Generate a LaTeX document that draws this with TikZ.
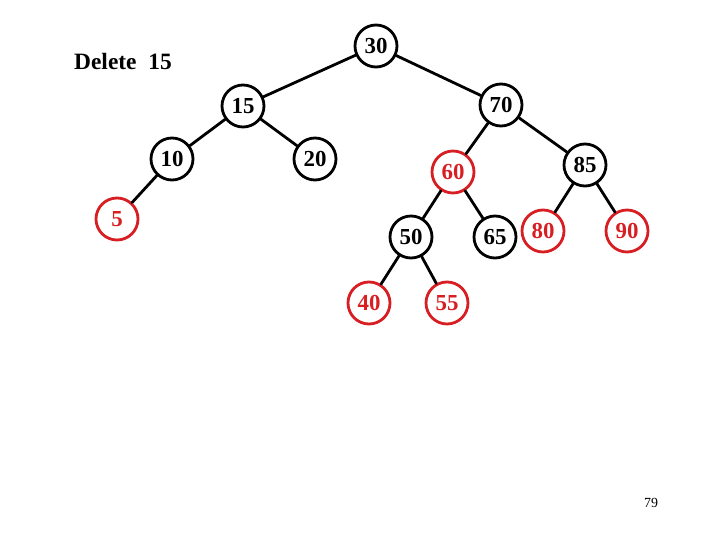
\documentclass[tikz,border=0pt]{standalone}
\usepackage{fontspec}
\setmainfont{Liberation Serif}
\usepackage{xcolor}
\definecolor{rbred}{RGB}{215,30,35}

\begin{document}
\begin{tikzpicture}[x=1bp, y=-1bp,
    bnode/.style={circle, draw=black, line width=2.8bp, minimum size=42bp, inner sep=0pt,
                  font=\fontsize{23}{26}\selectfont\bfseries},
    rnode/.style={bnode, draw=rbred, text=rbred},
    edge/.style={line width=2.8bp, line cap=round}]
    \useasboundingbox (0,0) rectangle (720,540);
    \node[bnode] (n30) at (376,46) {30};
    \node[bnode] (n15) at (243,106) {15};
    \node[bnode] (n70) at (501,105) {70};
    \node[bnode] (n10) at (172,159) {10};
    \node[bnode] (n20) at (315,159) {20};
    \node[rnode] (n5) at (117,219) {5};
    \node[rnode] (n60) at (453,172) {60};
    \node[bnode] (n85) at (585,165) {85};
    \node[bnode] (n50) at (411,237) {50};
    \node[bnode] (n65) at (495,237) {65};
    \node[rnode] (n80) at (543,231) {80};
    \node[rnode] (n90) at (627,231) {90};
    \node[rnode] (n40) at (369,303) {40};
    \node[rnode] (n55) at (447,303) {55};
    \node[anchor=base west, inner sep=0pt, font=\fontsize{23.5}{26}\selectfont\bfseries] (title) at (74,70) {Delete\ \ 15};
    \node[inner sep=0pt, font=\fontsize{14}{16}\selectfont] (page) at (651,503) {79};
    \draw[edge] (n30) -- (n15);
    \draw[edge] (n30) -- (n70);
    \draw[edge] (n15) -- (n10);
    \draw[edge] (n15) -- (n20);
    \draw[edge] (n10) -- (n5);
    \draw[edge] (n70) -- (n60);
    \draw[edge] (n70) -- (n85);
    \draw[edge] (n60) -- (n50);
    \draw[edge] (n60) -- (n65);
    \draw[edge] (n85) -- (n80);
    \draw[edge] (n85) -- (n90);
    \draw[edge] (n50) -- (n40);
    \draw[edge] (n50) -- (n55);
\end{tikzpicture}
\end{document}
